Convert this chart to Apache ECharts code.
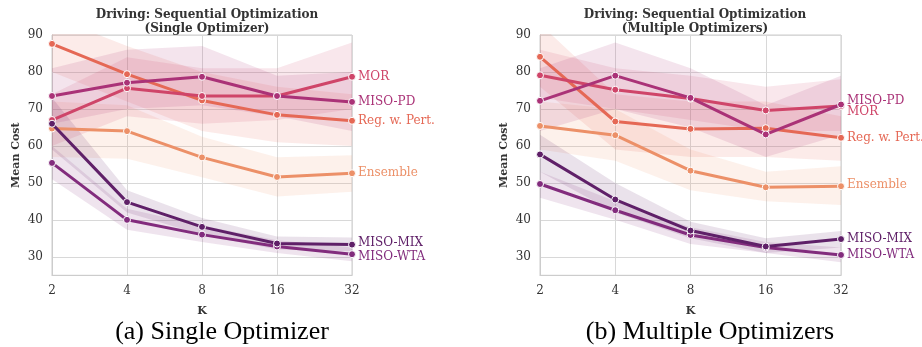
<!DOCTYPE html>
<html><head><meta charset="utf-8">
<script src="https://cdn.jsdelivr.net/npm/echarts@6/dist/echarts.min.js"></script>
<style>html,body{margin:0;padding:0;background:#fff}#c{width:922px;height:347px}</style>
</head><body><div id="c"></div>
<script>
const kLabels = ['2','4','8','16','32'];
const yTicks = [30,40,50,60,70,80,90];
const seriesNames = ['Ensemble','Reg. w. Pert.','MOR','MISO-PD','MISO-WTA','MISO-MIX'];
const colors = ['#ec9068','#e56855','#cf4569','#aa3277','#822c7d','#5f2068'];

// Panel (a) Single Optimizer
const a_Ensemble = [64.7, 64.0, 56.9, 51.6, 52.6];
const a_Ensemble_lo = [57, 56.5, 51.5, 46.3, 47.6];
const a_Ensemble_hi = [72, 71, 62.5, 56.9, 57.5];
const a_Reg = [87.6, 79.4, 72.3, 68.4, 66.8];
const a_Reg_lo = [80, 72, 64, 61, 60];
const a_Reg_hi = [95, 87, 80, 76, 74];
const a_MOR = [67.0, 75.6, 73.5, 73.5, 78.7];
const a_MOR_lo = [60, 68, 66, 67, 70];
const a_MOR_hi = [74, 84, 81, 81, 88];
const a_PD = [73.5, 77.1, 78.7, 73.5, 71.9];
const a_PD_lo = [66, 70, 71, 68, 64];
const a_PD_hi = [81, 86, 87, 79, 80];
const a_WTA = [55.4, 40.0, 36.0, 32.8, 30.7];
const a_WTA_lo = [51, 37.3, 34, 31, 28.8];
const a_WTA_hi = [60, 43, 38.5, 34.5, 32.5];
const a_MIX = [66.0, 44.8, 38.1, 33.6, 33.3];
const a_MIX_lo = [59, 42, 36, 32, 31.5];
const a_MIX_hi = [73, 48, 40.5, 35.5, 35.2];

// Panel (b) Multiple Optimizers
const b_Ensemble = [65.4, 62.9, 53.3, 48.8, 49.1];
const b_Ensemble_lo = [59, 56, 48, 45, 44];
const b_Ensemble_hi = [72, 70, 59, 53, 54.5];
const b_Reg = [84.1, 66.6, 64.6, 64.8, 62.2];
const b_Reg_lo = [76, 59, 57, 57, 56];
const b_Reg_hi = [93, 74, 72, 72, 68];
const b_MOR = [79.1, 75.2, 72.8, 69.6, 70.8];
const b_MOR_lo = [73, 70, 67, 64, 64];
const b_MOR_hi = [86, 81, 79, 76, 78];
const b_PD = [72.2, 79.0, 73.0, 63.1, 71.2];
const b_PD_lo = [64, 70, 65, 57, 63];
const b_PD_hi = [81, 88, 81, 71, 79];
const b_WTA = [49.7, 42.6, 35.9, 32.5, 30.5];
const b_WTA_lo = [46, 40, 33.5, 31, 28.5];
const b_WTA_hi = [53, 45, 38, 34, 32.5];
const b_MIX = [57.7, 45.5, 37.1, 32.8, 34.8];
const b_MIX_lo = [53, 42, 35, 31, 32.5];
const b_MIX_hi = [63, 50, 39.5, 35, 37];

const panels = [
  {mean:[a_Ensemble,a_Reg,a_MOR,a_PD,a_WTA,a_MIX],
   lo:[a_Ensemble_lo,a_Reg_lo,a_MOR_lo,a_PD_lo,a_WTA_lo,a_MIX_lo],
   hi:[a_Ensemble_hi,a_Reg_hi,a_MOR_hi,a_PD_hi,a_WTA_hi,a_MIX_hi],
   labelDy:[0,0,0,0,3,-1.5]},
  {mean:[b_Ensemble,b_Reg,b_MOR,b_PD,b_WTA,b_MIX],
   lo:[b_Ensemble_lo,b_Reg_lo,b_MOR_lo,b_PD_lo,b_WTA_lo,b_MIX_lo],
   hi:[b_Ensemble_hi,b_Reg_hi,b_MOR_hi,b_PD_hi,b_WTA_hi,b_MIX_hi],
   labelDy:[-1,0,6,-4,0,-0.5]}
];

function hexA(h,a){const r=parseInt(h.slice(1,3),16),g=parseInt(h.slice(3,5),16),b=parseInt(h.slice(5,7),16);return `rgba(${r},${g},${b},${a})`;}

const SERIF = 'DejaVu Serif';
const series = [];
panels.forEach((p,pi)=>{
  seriesNames.forEach((n,si)=>{
    const st = 'band'+pi+'_'+si;
    series.push({type:'line',xAxisIndex:pi,yAxisIndex:pi,stack:st,data:p.lo[si],symbol:'none',
      lineStyle:{opacity:0},silent:true,z:1});
    series.push({type:'line',xAxisIndex:pi,yAxisIndex:pi,stack:st,
      data:p.hi[si].map((v,i)=>+(v-p.lo[si][i]).toFixed(3)),symbol:'none',
      lineStyle:{opacity:0},areaStyle:{color:hexA(colors[si],0.13),opacity:1},silent:true,z:1});
  });
  seriesNames.forEach((n,si)=>{
    series.push({type:'line',name:n,xAxisIndex:pi,yAxisIndex:pi,data:p.mean[si],
      symbol:'circle',symbolSize:7,showSymbol:true,
      lineStyle:{color:colors[si],width:3},
      itemStyle:{color:colors[si],borderColor:'#fff',borderWidth:1},
      z:3+si,
      endLabel:{show:true,formatter:n,color:colors[si],fontFamily:SERIF,fontSize:12,
        distance:6,offset:[0,p.labelDy[si]]}});
  });
});

const axisLabelStyle = {fontFamily:SERIF,fontSize:12,color:'#333'};
const grids = [{left:52,width:300,top:35,height:240.3},{left:540,width:301,top:35,height:240.3}];
const xAxes = grids.map((g,i)=>({type:'category',gridIndex:i,data:kLabels,boundaryGap:false,
  axisLine:{show:true,lineStyle:{color:'#cccccc',width:1}},axisTick:{show:false},
  axisLabel:Object.assign({margin:10},axisLabelStyle),
  splitLine:{show:true,lineStyle:{color:'#d8d8d8',width:1}},
  name:'K',nameLocation:'middle',nameGap:30,
  nameTextStyle:{fontFamily:SERIF,fontSize:11,fontWeight:'bold',color:'#333'}}));
const yAxes = grids.map((g,i)=>({type:'value',gridIndex:i,min:25,max:90,interval:5,
  axisLine:{show:true,lineStyle:{color:'#cccccc',width:1}},axisTick:{show:false},
  axisLabel:Object.assign({margin:9,formatter:v=>yTicks.includes(v)?String(v):''},axisLabelStyle),
  splitLine:{show:true,lineStyle:{color:['rgba(0,0,0,0)','#d8d8d8'],width:1}},
  name:'Mean Cost',nameLocation:'middle',nameRotate:90,nameGap:30,
  nameTextStyle:{fontFamily:SERIF,fontSize:11,fontWeight:'bold',color:'#333'}}));

const titles = [
  {text:'Driving: Sequential Optimization\n(Single Optimizer)',left:202,top:3},
  {text:'Driving: Sequential Optimization\n(Multiple Optimizers)',left:690,top:3}
].map(t=>Object.assign(t,{textAlign:'center',
  textStyle:{fontFamily:SERIF,fontSize:12,fontWeight:'bold',color:'#333',lineHeight:14}}));

const chart = echarts.init(document.getElementById('c'),null,{renderer:'canvas'});
chart.setOption({
  animation:false,
  backgroundColor:'#fff',
  title:titles,
  grid:grids.map(g=>Object.assign({show:true,borderColor:'#cccccc',borderWidth:1,backgroundColor:'#fff'},g)),
  xAxis:xAxes,
  yAxis:yAxes,
  series:series,
  graphic:[
    {type:'text',x:222,y:332,style:{text:'(a) Single Optimizer',font:'26px "Liberation Serif"',fill:'#000',textAlign:'center',textVerticalAlign:'middle'}},
    {type:'text',x:710,y:332,style:{text:'(b) Multiple Optimizers',font:'26px "Liberation Serif"',fill:'#000',textAlign:'center',textVerticalAlign:'middle'}}
  ]
});
</script></body></html>
